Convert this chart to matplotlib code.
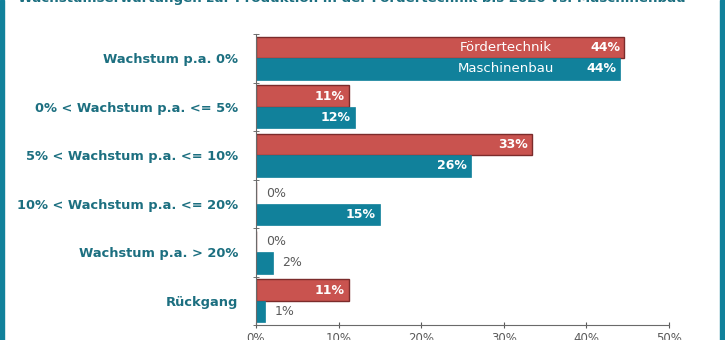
import matplotlib
matplotlib.use("Agg")
import matplotlib.pyplot as plt
from matplotlib.patches import Rectangle
import numpy as np

categories = ["Wachstum p.a. 0%", "0% < Wachstum p.a. <= 5%", "5% < Wachstum p.a. <= 10%",
              "10% < Wachstum p.a. <= 20%", "Wachstum p.a. > 20%", "Rückgang"]
foerder = [44.6, 11.2, 33.4, 0.0, 0.0, 11.2]
maschinen = [44.1, 12.0, 26.0, 15.0, 2.0, 1.1]
foerder_labels = ["44%", "11%", "33%", "0%", "0%", "11%"]
maschinen_labels = ["44%", "12%", "26%", "15%", "2%", "1%"]
series_names = ["Fördertechnik", "Maschinenbau"]
xticks = [0, 10, 20, 30, 40, 50]
title = "Wachstumserwartungen zur Produktion in der Fördertechnik bis 2020 vs. Maschinenbau"

RED = "#c9534f"
RED_EDGE = "#7b2b2b"
TEAL = "#11819b"
TEXT_TEAL = "#1c6f80"
GREY = "#5a5a5a"

fig = plt.figure(figsize=(7.25, 3.4), dpi=100)
fig.patch.set_facecolor("white")
ax = fig.add_axes([256/725, 15/340, (669-256)/725, (325-34)/340])

n = len(categories)
y = np.arange(n)
h = 0.44
ax.barh(y - h/2, foerder, height=h, color=RED, edgecolor=RED_EDGE, linewidth=1.0, zorder=2)
ax.barh(y + h/2, maschinen, height=h, color=TEAL, edgecolor=TEAL, linewidth=0.5, zorder=2)

ax.set_xlim(0, 50)
ax.set_ylim(n - 0.5, -0.5)

for i in range(n):
    for val, lab, yy in ((foerder[i], foerder_labels[i], y[i] - h/2),
                         (maschinen[i], maschinen_labels[i], y[i] + h/2)):
        if val >= 5:
            ax.text(val - 0.5, yy, lab, ha="right", va="center", color="white",
                    fontsize=9, fontweight="bold", zorder=3)
        else:
            ax.text(val + 1.2, yy, lab, ha="left", va="center", color=GREY,
                    fontsize=9, zorder=3)

ax.text(30.2, y[0] - h/2, series_names[0], ha="center", va="center", color="white", fontsize=9.5, zorder=3)
ax.text(30.2, y[0] + h/2, series_names[1], ha="center", va="center", color="white", fontsize=9.5, zorder=3)

ax.set_yticks(y)
ax.set_yticklabels(categories, fontsize=9.4, fontweight="bold", color=TEXT_TEAL)
ax.tick_params(axis="y", length=0, pad=13)
# group separator ticks
ax.set_yticks(np.arange(-0.5, n, 1.0), minor=True)
ax.tick_params(axis="y", which="minor", length=4, direction="inout", color=GREY)

ax.set_xticks(xticks)
ax.set_xticklabels([f"{t}%" for t in xticks], fontsize=8.5, color=GREY)
ax.tick_params(axis="x", length=4, direction="inout", color=GREY, pad=3)

for s in ["top", "right"]:
    ax.spines[s].set_visible(False)
for s in ["left", "bottom"]:
    ax.spines[s].set_color("#6a6a6a")
    ax.spines[s].set_linewidth(0.8)

fig.text(352/725, 1 - 2/340, title, ha="center", va="baseline", fontsize=9.6,
         fontweight="bold", color=TEXT_TEAL)

fig.patches.append(Rectangle((0, 0), 4/725, 1, transform=fig.transFigure, color=TEAL, zorder=5))
fig.patches.append(Rectangle((1 - 5/725, 0), 5/725, 1, transform=fig.transFigure, color=TEAL, zorder=5))

fig.savefig("out.png", dpi=100)
